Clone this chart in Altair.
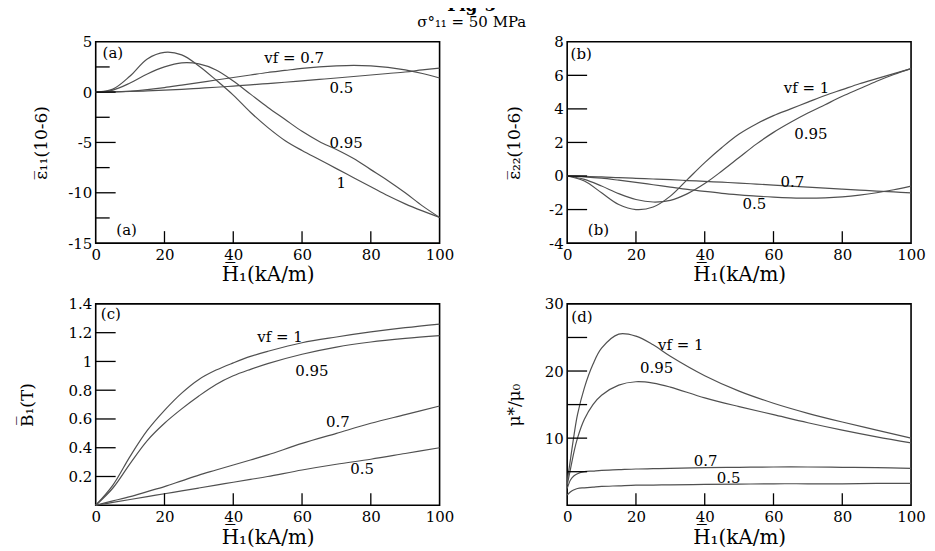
import altair as alt
import pandas as pd

FONT = "DejaVu Serif"
LINE_COLOR = "#505050"
W, H = 345, 202

vf_names = ["1", "0.95", "0.7", "0.5"]
X_LABELS = [0, 20, 40, 60, 80, 100]
X_INNER_TICKS = [20, 40, 60, 80]

# ---------------- panel (a): strain eps11 ----------------
a_x = [0, 5, 10, 15, 20, 25, 30, 35, 40, 45, 50, 55, 60, 65, 70, 75, 80, 85, 90, 95, 100]
a_vf1 = [0, 0.3, 1.6, 3.3, 3.95, 3.7, 2.6, 1.2, -0.3, -2.0, -3.5, -4.8, -5.8, -6.7, -7.6, -8.5, -9.4, -10.3, -11.1, -11.8, -12.45]
a_vf095 = [0, 0.2, 0.9, 1.8, 2.5, 2.9, 2.8, 2.2, 1.1, -0.2, -1.5, -2.7, -3.9, -4.9, -5.7, -6.6, -7.7, -8.8, -10.0, -11.3, -12.45]
a_vf07 = [0, 0.02, 0.1, 0.25, 0.45, 0.7, 0.95, 1.2, 1.45, 1.7, 1.95, 2.15, 2.35, 2.5, 2.6, 2.65, 2.6, 2.45, 2.2, 1.85, 1.4]
a_vf05 = [0, 0.02, 0.06, 0.12, 0.2, 0.28, 0.38, 0.48, 0.6, 0.72, 0.85, 0.98, 1.12, 1.26, 1.4, 1.55, 1.7, 1.85, 2.0, 2.2, 2.38]
a_ylabels = [-15, -10, -5, 0, 5]
a_major = [-10, -5, 0]
a_minor = [-12.5, -7.5, -2.5, 2.5]
a_text = ["vf = 0.7", "0.5", "0.95", "1", "(a)", "(a)"]
a_text_x = [49, 68, 68, 70, 2, 6]
a_text_y = [3.35, 0.4, -5.1, -9.0, 3.85, -13.7]

# ---------------- panel (b): strain eps22 ----------------
b_x = [0, 5, 10, 15, 20, 25, 30, 35, 40, 45, 50, 55, 60, 65, 70, 75, 80, 85, 90, 95, 100]
b_vf1 = [0, -0.3, -1.0, -1.7, -2.0, -1.85, -1.2, -0.2, 0.8, 1.7, 2.5, 3.1, 3.6, 4.0, 4.4, 4.8, 5.15, 5.5, 5.8, 6.1, 6.4]
b_vf095 = [0, -0.2, -0.6, -1.05, -1.4, -1.55, -1.45, -1.05, -0.45, 0.3, 1.1, 1.9, 2.6, 3.2, 3.75, 4.25, 4.75, 5.2, 5.65, 6.05, 6.4]
b_vf07 = [0, -0.02, -0.05, -0.1, -0.14, -0.18, -0.22, -0.27, -0.32, -0.37, -0.42, -0.48, -0.54, -0.6, -0.66, -0.72, -0.78, -0.84, -0.9, -0.95, -1.0]
b_vf05 = [0, -0.05, -0.13, -0.25, -0.38, -0.52, -0.66, -0.8, -0.92, -1.03, -1.12, -1.2, -1.26, -1.3, -1.32, -1.3, -1.24, -1.14, -1.0, -0.82, -0.6]
b_ylabels = [-4, -2, 0, 2, 4, 6, 8]
b_major = [-2, 0, 2, 4, 6]
b_minor = []
b_text = ["vf = 1", "0.95", "0.7", "0.5", "(b)", "(b)"]
b_text_x = [63, 66, 62, 51, 1, 6]
b_text_y = [5.25, 2.5, -0.35, -1.67, 7.3, -3.2]

# ---------------- panel (c): induction B1 ----------------
c_x = [0, 5, 10, 15, 20, 25, 30, 35, 40, 45, 50, 60, 70, 80, 90, 100]
c_vf1 = [0, 0.14, 0.34, 0.52, 0.66, 0.78, 0.875, 0.94, 0.99, 1.035, 1.07, 1.13, 1.17, 1.205, 1.235, 1.26]
c_vf095 = [0, 0.12, 0.29, 0.45, 0.57, 0.67, 0.76, 0.84, 0.9, 0.945, 0.985, 1.05, 1.1, 1.135, 1.16, 1.18]
c_vf07 = [0, 0.03, 0.06, 0.095, 0.13, 0.17, 0.21, 0.245, 0.28, 0.315, 0.35, 0.43, 0.5, 0.57, 0.63, 0.69]
c_vf05 = [0, 0.02, 0.04, 0.06, 0.08, 0.1, 0.12, 0.14, 0.16, 0.18, 0.2, 0.245, 0.285, 0.32, 0.36, 0.4]
c_ylabels = [0.2, 0.4, 0.6, 0.8, 1, 1.2, 1.4]
c_major = [0.2, 0.4, 0.6, 0.8, 1, 1.2]
c_minor = []
c_text = ["vf = 1", "0.95", "0.7", "0.5", "(c)"]
c_text_x = [47, 58, 67, 74, 1.5]
c_text_y = [1.17, 0.93, 0.58, 0.25, 1.33]

# ---------------- panel (d): relative permeability ----------------
d_x = [0, 1, 2, 3, 5, 7.5, 10, 15, 20, 25, 30, 40, 50, 60, 70, 80, 90, 100]
d_vf1 = [3.5, 7.0, 10.5, 13.5, 17.5, 21.0, 23.4, 25.5, 25.2, 23.9, 22.2, 19.3, 17.0, 15.2, 13.7, 12.4, 11.2, 10.0]
d_vf095 = [3.0, 5.5, 8.0, 10.0, 12.8, 15.0, 16.4, 17.9, 18.4, 18.2, 17.6, 16.0, 14.7, 13.5, 12.3, 11.2, 10.2, 9.3]
d_vf07 = [2.5, 3.8, 4.4, 4.7, 5.0, 5.1, 5.2, 5.3, 5.4, 5.45, 5.5, 5.6, 5.65, 5.7, 5.7, 5.65, 5.6, 5.5]
d_vf05 = [1.5, 2.0, 2.3, 2.5, 2.6, 2.7, 2.8, 2.9, 3.0, 3.0, 3.05, 3.1, 3.15, 3.2, 3.2, 3.2, 3.25, 3.25]
d_ylabels = [10, 20, 30]
d_major = [5, 10, 15, 20, 25]
d_minor = []
d_text = ["vf = 1", "0.95", "0.7", "0.5", "(d)"]
d_text_x = [26.4, 21.2, 36.8, 43.5, 1.2]
d_text_y = [23.9, 20.4, 6.6, 4.1, 28.1]


def series_df(xs, curves):
    rows = []
    for name, ys in zip(vf_names, curves):
        for xv, yv in zip(xs, ys):
            rows.append({"x": xv, "y": yv, "vf": name})
    return pd.DataFrame(rows)


def panel(xs, curves, ydomain, ylabels, major, minor, texts, tx, ty, ytitle, ytitle_pad):
    xscale = alt.Scale(domain=[0, 100], nice=False, zero=False)
    yscale = alt.Scale(domain=ydomain, nice=False, zero=False)
    xaxis = alt.Axis(
        values=X_LABELS, ticks=False, domain=False, grid=False, labelFlush=False,
        labelOverlap=False, labelPadding=4, labelExpr="'' + datum.value",
        title="H\u0305\u2081(kA/m)", titlePadding=3)
    yaxis = alt.Axis(
        values=ylabels, ticks=False, domain=False, grid=False, labelFlush=False,
        labelOverlap=False, labelPadding=4, labelExpr="'' + datum.value",
        title=ytitle, titlePadding=ytitle_pad)

    def X(f):
        return alt.X(f, scale=xscale, axis=xaxis, title="H\u0305\u2081(kA/m)")

    def Y(f):
        return alt.Y(f, scale=yscale, axis=yaxis, title=ytitle)

    lines = alt.Chart(series_df(xs, curves)).mark_line(
        interpolate="catmull-rom", color=LINE_COLOR, strokeWidth=1.2
    ).encode(x=X("x:Q"), y=Y("y:Q"), detail="vf:N")
    layers = [lines]
    if major:
        layers.append(alt.Chart(pd.DataFrame({"v": major})).mark_rule(color="black", strokeWidth=1.3).encode(
            y=Y("v:Q"), x=alt.value(0), x2=alt.value(20)))
    if minor:
        layers.append(alt.Chart(pd.DataFrame({"v": minor})).mark_rule(color="black", strokeWidth=1.3).encode(
            y=Y("v:Q"), x=alt.value(0), x2=alt.value(14)))
    layers.append(alt.Chart(pd.DataFrame({"v": X_INNER_TICKS})).mark_rule(color="black", strokeWidth=1.3).encode(
        x=X("v:Q"), y=alt.value(H), y2=alt.value(H - 12)))
    layers.append(alt.Chart(pd.DataFrame({"t": texts, "x": tx, "y": ty})).mark_text(
        align="left", baseline="middle", font=FONT, fontSize=15, color="black").encode(
        x=X("x:Q"), y=Y("y:Q"), text="t:N"))
    return alt.layer(*layers).properties(width=W, height=H)


pa = panel(a_x, [a_vf1, a_vf095, a_vf07, a_vf05], [-15, 5], a_ylabels, a_major, a_minor,
           a_text, a_text_x, a_text_y, "\u03b5\u0305\u2081\u2081(10-6)", 17)
pb = panel(b_x, [b_vf1, b_vf095, b_vf07, b_vf05], [-4, 8], b_ylabels, b_major, b_minor,
           b_text, b_text_x, b_text_y, "\u03b5\u0305\u2082\u2082(10-6)", 25)
pc = panel(c_x, [c_vf1, c_vf095, c_vf07, c_vf05], [0, 1.4], c_ylabels, c_major, c_minor,
           c_text, c_text_x, c_text_y, "B\u0305\u2081(T)", 32)
pd_ = panel(d_x, [d_vf1, d_vf095, d_vf07, d_vf05], [0, 30], d_ylabels, d_major, d_minor,
            d_text, d_text_x, d_text_y, "\u03bc*/\u03bc\u2080", 21)

chart = alt.concat(pa, pb, pc, pd_, columns=2, spacing={"row": 10, "column": 49}).properties(
    title=alt.TitleParams("Fig-5", subtitle=["\u03c3\u00b0\u2081\u2081 = 50 MPa"], font=FONT, fontSize=17,
                          fontWeight="bold", color="black", subtitleFont=FONT, subtitleFontSize=15,
                          subtitleColor="black", anchor="middle", offset=3, subtitlePadding=0),
    padding={"left": 9, "top": -12, "right": 0, "bottom": 0},
).configure_view(stroke="black", strokeWidth=1.6).configure_axis(
    labelFont=FONT, labelFontSize=15, labelColor="black", titleFont=FONT, titleColor="black",
    titleFontWeight="normal",
).configure_axisX(titleFontSize=20).configure_axisY(titleFontSize=17)

chart.save("out.html", embed_options={"renderer": "svg", "actions": False})
